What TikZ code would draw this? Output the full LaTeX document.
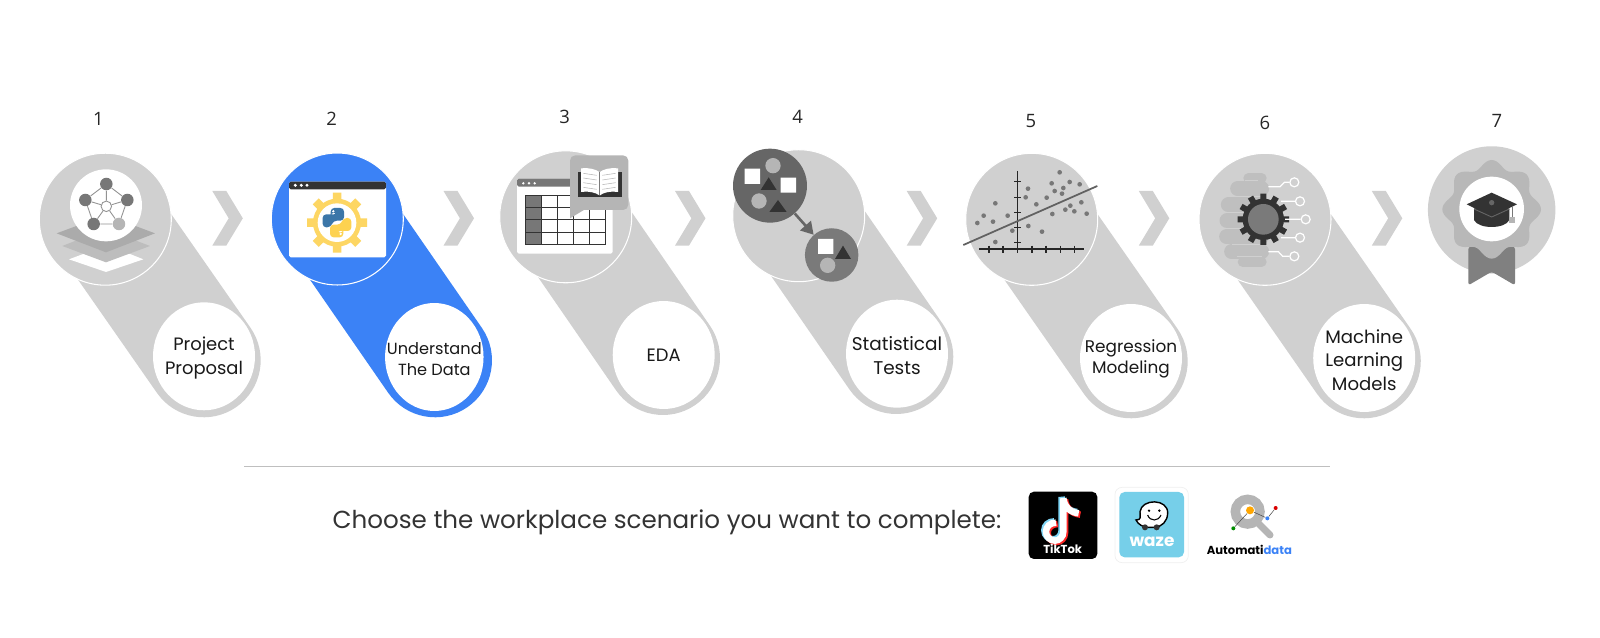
\documentclass[tikz,border=0pt]{standalone}
\usepackage{fontspec}
\usepackage{xcolor}
\setmainfont{Poppins}
\newfontfamily\numfont{Open Sans}
\usetikzlibrary{shapes.geometric}
\usetikzlibrary{arrows.meta}
\usetikzlibrary{backgrounds}
\definecolor{bandgray}{HTML}{D0D0D0}
\definecolor{bandblue}{HTML}{3B82F6}
\definecolor{iconmid}{HTML}{777777}
\definecolor{icondark}{HTML}{333333}
\definecolor{iconsoft}{HTML}{B5B5B5}
\definecolor{gearyellow}{HTML}{FDD663}
\definecolor{pyblue}{HTML}{3B76A8}
\definecolor{pyyellow}{HTML}{FDD250}
\definecolor{wazeblue}{HTML}{76CFE9}
\newcommand{\chevat}[1]{\fill[bandgray,shift={(#1,218.3)}] (0,-27.3) -- (14,-27.3) -- (30.5,0) -- (14,27.3) -- (0,27.3) -- (16.4,0) -- cycle;}
\begin{document}
\begin{tikzpicture}[x=0.02cm,y=-0.02cm,
    numlabel/.style={font=\numfont\fontsize{10.5}{12}\selectfont, text=black!85},
    band/.style={line width=2.28cm, line cap=round, bandgray},
    bigdisc/.style={circle, fill=bandgray, draw=white, line width=0.6pt, minimum size=2.64cm, inner sep=0pt},
    namedisc/.style={ellipse, fill=white, minimum width=2.04cm, minimum height=2.16cm, inner sep=0pt},
    nametext/.style={align=center, inner sep=0pt, text=black!90, yshift=-1.1pt, font=\fontsize{10.2}{13.6}\selectfont},
    netnode/.style={circle, fill=iconmid, minimum size=0.25cm, inner sep=0pt},
    netlink/.style={draw=iconmid!80, line width=0.5pt},
    pin/.style={circle, draw=white, line width=0.7pt, minimum size=0.18cm, inner sep=0pt},
    wire/.style={draw=white, line width=0.7pt},
    logodot/.style={circle, minimum size=0.08cm, inner sep=0pt}]
  \useasboundingbox (0,0) rectangle (1600,638);

  \node[numlabel] (num1) at (98.5,119) {1};
  \node[numlabel] (num2) at (331.7,119) {2};
  \node[numlabel] (num3) at (564.7,117) {3};
  \node[numlabel] (num4) at (797.7,117) {4};
  \node[numlabel] (num5) at (1031,121) {5};
  \node[numlabel] (num6) at (1265,123) {6};
  \node[numlabel] (num7) at (1497,121) {7};

  \coordinate (end1) at (203.7,360.3);
  \coordinate (end2) at (435,360.3);
  \coordinate (end3) at (663,358);
  \coordinate (end4) at (896.3,357);
  \coordinate (end5) at (1130.7,361.3);
  \coordinate (end6) at (1363.8,361.3);

  \node[bigdisc] (disc1) at (105.3,219.2) {};
  \node[bigdisc, fill=bandblue] (disc2) at (337.3,219) {};
  \node[bigdisc] (disc3) at (565.7,216.8) {};
  \node[bigdisc] (disc4) at (798.7,215.7) {};
  \node[bigdisc] (disc5) at (1031.7,219.3) {};
  \node[bigdisc] (disc6) at (1265,219.3) {};

  \begin{scope}[on background layer]
    \draw[band] (disc1.center) -- (end1);
    \draw[band, bandblue] (disc2.center) -- (end2);
    \draw[band] (disc3.center) -- (end3);
    \draw[band] (disc4.center) -- (end4);
    \draw[band] (disc5.center) -- (end5);
    \draw[band] (disc6.center) -- (end6);
  \end{scope}

  \node[namedisc, label={[nametext]center:{Project\\Proposal}}] (name1) at (204,356.3) {};
  \node[namedisc, minimum width=1.97cm, label={[nametext, font=\fontsize{9.2}{12.2}\selectfont]center:{Understand\\The Data}}] (name2) at (434.3,357) {};
  \node[namedisc, label={[nametext, yshift=1.1pt]center:{EDA}}] (name3) at (663.7,355) {};
  \node[namedisc, label={[nametext, font=\fontsize{10.5}{13.4}\selectfont]center:{Statistical\\Tests}}] (name4) at (897,353.7) {};
  \node[namedisc, label={[nametext, yshift=0.5pt, font=\fontsize{9.6}{12.2}\selectfont]center:{Regression\\Modeling}}] (name5) at (1131,358) {};
  \node[namedisc, label={[nametext, font=\fontsize{10.3}{13.4}\selectfont]center:{Machine\\Learning\\Models}}] (name6) at (1364.2,358) {};

  \chevat{212.3}
  \chevat{443.5}
  \chevat{675}
  \chevat{906.7}
  \chevat{1138.8}
  \chevat{1371.8}

  \begin{scope}[shift={(20,90)},scale=1/3]
    \fill[white] (147,508) -- (195,490) -- (325,490) -- (370,508) -- (258,546) -- cycle;
    \fill[black!26] (127,468) -- (185,445) -- (330,445) -- (390,468) -- (258,517) -- cycle;
    \fill[black!33] (110,430) -- (258,375) -- (405,430) -- (258,487) -- cycle;
    \fill[white] (258,346) circle (108);
    \node[netnode] (neta) at (259,282) {};
    \node[netnode] (netb) at (322,330) {};
    \node[netnode, fill=iconsoft] (netc) at (297,402) {};
    \node[netnode] (netd) at (221,402) {};
    \node[netnode] (nete) at (196,330) {};
    \node[circle, draw=iconmid!80, fill=white, line width=0.5pt, minimum size=0.21cm, inner sep=0pt] (nethub) at (259,349) {};
    \draw[netlink] (neta) -- (netb) -- (netc) -- (netd) -- (nete) -- (neta);
    \draw[netlink] (nethub) -- (neta);
    \draw[netlink] (nethub) -- (netb);
    \draw[netlink] (nethub) -- (netc);
    \draw[netlink] (nethub) -- (netd);
    \draw[netlink] (nethub) -- (nete);
  \end{scope}

  \begin{scope}[shift={(280,170)},scale=1/3]
    \fill[white, rounded corners=1pt] (27,35) rectangle (318,262);
    \fill[icondark, rounded corners=1pt] (27,35) rectangle (318,58);
    \fill[white] (46,46) circle (5) (64,46) circle (5) (81,46) circle (5);
    \draw[line width=0.17cm, gearyellow] (171,158) +(0:90) -- +(180:90) +(45:90) -- +(225:90) +(90:90) -- +(270:90) +(135:90) -- +(315:90);
    \fill[gearyellow] (171,158) circle (72);
    \fill[white] (171,158) circle (58);
    \fill[pyblue, rounded corners=2pt] (152,135) -- (152,114) -- (192,114) -- (192,152) -- (160,152) -- (152,172) -- (128,172) -- (128,133) -- (172,133) -- (172,128) -- (152,128) -- cycle;
    \fill[pyyellow, rounded corners=2pt] (190,181) -- (190,202) -- (150,202) -- (150,164) -- (182,164) -- (190,144) -- (214,144) -- (214,183) -- (170,183) -- (170,188) -- (190,188) -- cycle;
    \fill[white] (160,124) circle (4) (182,192) circle (4);
  \end{scope}

  \begin{scope}[shift={(490,90)},scale=1/3]
    \fill[white, rounded corners=1pt] (81,266) rectangle (368,491);
    \fill[iconmid, rounded corners=1pt] (81,266) rectangle (368,290);
    \fill[white] (100,280) circle (4) (117,280) circle (4) (134,280) circle (4);
    \fill[iconmid] (105,317) rectangle (153,463);
    \draw[icondark, line width=0.5pt] (105,317) rectangle (345,463);
    \draw[icondark, line width=0.5pt] (153,317) -- (153,463) (201,317) -- (201,463) (249,317) -- (249,463) (297,317) -- (297,463);
    \draw[icondark, line width=0.5pt] (105,353) -- (345,353) (105,389) -- (345,389) (105,426) -- (345,426);
    \fill[iconsoft, rounded corners=3pt] (240,196) rectangle (415,360);
    \fill[iconsoft] (240,340) -- (240,385) -- (285,358) -- cycle;
    \fill[icondark] (263,245) rectangle (396,322);
    \fill[white] (273,235) .. controls (295,232) and (318,238) .. (328,246) -- (328,316) .. controls (318,308) and (295,302) .. (273,306) -- cycle;
    \fill[white] (384,235) .. controls (362,232) and (339,238) .. (330,246) -- (330,316) .. controls (339,308) and (362,302) .. (384,306) -- cycle;
    \draw[iconsoft, line width=0.3pt] (280,250) -- (320,256) (280,264) -- (320,270) (280,278) -- (320,284) (280,292) -- (320,298);
    \draw[iconsoft, line width=0.3pt] (377,250) -- (337,256) (377,264) -- (337,270) (377,278) -- (337,284) (377,292) -- (337,298);
  \end{scope}

  \begin{scope}[shift={(490,90)},scale=1/3]
    \node[circle, fill=black!60, minimum size=1.48cm, inner sep=0pt] (clusterbig) at (840,287) {};
    \node[circle, fill=black!52, minimum size=1.07cm, inner sep=0pt] (clustersmall) at (1025,495) {};
    \draw[black!60, line width=1.5pt, -{Triangle[width=8pt,length=7pt]}] (clusterbig) -- (clustersmall);
    \fill[white] (764,236) rectangle (810,282) (872,263) rectangle (918,308) (984,447) rectangle (1030,492);
    \fill[iconsoft] (849,227) circle (23) (807,333) circle (23) (1013,526) circle (23);
    \fill[icondark] (812,300) -- (860,300) -- (836,262) -- cycle;
    \fill[icondark] (838,366) -- (890,366) -- (864,330) -- cycle;
    \fill[icondark] (1035,507) -- (1083,507) -- (1059,467) -- cycle;
  \end{scope}

  \begin{scope}[shift={(955,155)},scale=1/3]
    \draw[black!85, line width=0.6pt] (73,282) -- (387,282) (188,48) -- (188,293);
    \draw[black!85, line width=0.6pt] (102,272) -- (102,293) (144,272) -- (144,293) (231,272) -- (231,293) (273,272) -- (273,293) (316,272) -- (316,293) (358,272) -- (358,293);
    \draw[black!85, line width=0.6pt] (178,80) -- (198,80) (178,127) -- (198,127) (178,172) -- (198,172) (178,217) -- (198,217) (178,263) -- (198,263);
    \fill[iconmid] (314,52) circle (7) (290,85) circle (7) (344,81) circle (7) (374,88) circle (7) (325,99) circle (7) (299,108) circle (7) (321,116) circle (7) (219,101) circle (7) (212,127) circle (7) (275,128) circle (7) (121,145) circle (7) (244,148) circle (7) (379,142) circle (7) (346,152) circle (7) (331,164) circle (7) (358,169) circle (7) (395,176) circle (7) (292,177) circle (7) (158,182) circle (7) (86,182) circle (7) (67,204) circle (7) (114,200) circle (7) (220,213) circle (7) (172,227) circle (7) (261,230) circle (7) (121,261) circle (7);
    \draw[black!62, line width=1pt] (25,270) -- (427,93);
  \end{scope}

  \begin{scope}[shift={(1195,150)},scale=1/3]
    \draw[black!25, line width=0.2cm, line cap=round] (160,85) -- (200,85) (143,335) -- (200,335);
    \draw[black!25, line width=0.3cm, line cap=round] (128,116) -- (200,116) (100,165) -- (200,165) (96,212) -- (200,212) (95,260) -- (200,260) (110,305) -- (200,305);
    \fill[black!25] (170,72) rectangle (205,347);
    \draw[bandgray, line width=0.5pt] (150,92) -- (190,92) (120,138) -- (200,138) (100,188) -- (200,188) (100,236) -- (200,236) (110,283) -- (200,283) (125,320) -- (200,320);
    \draw[icondark, line width=0.12cm] (205,208) +(0:77) -- +(180:77) +(30:77) -- +(210:77) +(60:77) -- +(240:77) +(90:77) -- +(270:77) +(120:77) -- +(300:77) +(150:77) -- +(330:77);
    \fill[icondark] (205,208) circle (62);
    \fill[black!52] (205,208) circle (46);
    \node[pin] (pina) at (298,97) {};
    \node[pin] (pinb) at (315,154) {};
    \node[pin] (pinc) at (332,208) {};
    \node[pin] (pind) at (315,263) {};
    \node[pin] (pine) at (298,319) {};
    \draw[wire] (220,110) -- (255,110) -- (268,97) -- (pina);
    \draw[wire] (258,154) -- (pinb);
    \draw[wire] (270,208) -- (pinc);
    \draw[wire] (258,263) -- (pind);
    \draw[wire] (220,305) -- (250,305) -- (263,319) -- (pine);
  \end{scope}

  \begin{scope}[shift={(1420,140)},scale=1/3]
    \node[circle, fill=bandgray, minimum size=2.55cm, inner sep=0pt] (disc7) at (215,210) {};
    \fill[black!50, rounded corners=1.5pt] (145,320) -- (285,320) -- (285,436) -- (215,395) -- (145,436) -- cycle;
    \fill[black!28] plot[domain=0:360, samples=121, smooth] ({215+136*cos(\x)+12*cos(8*\x)*cos(\x)}, {208+136*sin(\x)+12*cos(8*\x)*sin(\x)}) -- cycle;
    \fill[white] (215,207) circle (97);
    \fill[black!80] (162,205) -- (162,240) .. controls (175,268) and (255,268) .. (268,240) -- (268,205) -- cycle;
    \fill[black!80] (140,193) -- (215,158) -- (291,193) -- (215,230) -- cycle;
    \draw[black!60, line width=0.5pt] (162,207) -- (215,231) -- (268,207);
    \fill[black!60] (215,188) circle (8);
    \draw[iconmid, line width=0.4pt] (277,198) -- (277,232);
    \fill[iconsoft] (268,230) rectangle (285,250);
  \end{scope}

  \node[rectangle, fill=black!25, minimum width=21.73cm, minimum height=0.02cm, inner sep=0pt] (rule) at (787,467) {};
  \node[text=black!80, font=\fontsize{14}{18}\selectfont] (prompt) at (667,522.5) {Choose the workplace scenario you want to complete:};

  \begin{scope}[shift={(1020,485)},scale=1/3]
    \fill[black, rounded corners=3pt] (26,20) rectangle (232,222);
    \draw[cyan!50!white, line width=0.13cm, shift={(-5,-4)}] (176,85) .. controls (150,82) and (133,65) .. (130,40) -- (130,140) .. controls (130,155) and (118,167) .. (105,167) .. controls (90,167) and (78,155) .. (78,140) .. controls (78,125) and (90,113) .. (108,113);
    \draw[red!80!pink, line width=0.13cm, shift={(5,4)}] (176,85) .. controls (150,82) and (133,65) .. (130,40) -- (130,140) .. controls (130,155) and (118,167) .. (105,167) .. controls (90,167) and (78,155) .. (78,140) .. controls (78,125) and (90,113) .. (108,113);
    \draw[white, line width=0.13cm] (176,85) .. controls (150,82) and (133,65) .. (130,40) -- (130,140) .. controls (130,155) and (118,167) .. (105,167) .. controls (90,167) and (78,155) .. (78,140) .. controls (78,125) and (90,113) .. (108,113);
    \node[text=white, font=\bfseries\fontsize{6.6}{8}\selectfont, inner sep=0pt] (tiktokname) at (128,192) {TikTok};
  \end{scope}

  \begin{scope}[shift={(1000,470)},scale=1/3]
    \fill[white, rounded corners=4pt, draw=black!6] (345,52) rectangle (565,278);
    \fill[wazeblue, rounded corners=3pt] (358,66) rectangle (552,262);
    \filldraw[fill=white, draw=black, line width=0.8pt] (408,150) .. controls (425,150) and (420,140) .. (420,125) .. controls (425,85) and (505,85) .. (503,130) .. controls (502,155) and (485,170) .. (465,172) -- (440,172) .. controls (430,170) and (415,165) .. (408,150) -- cycle;
    \fill[black] (447,122) circle (4) (478,122) circle (4);
    \draw[black, line width=0.6pt] (443,135) .. controls (450,155) and (475,155) .. (483,135);
    \fill[icondark] (435,172) circle (9) (470,172) circle (9);
    \node[text=white, font=\bfseries\fontsize{9.6}{11}\selectfont, inner sep=0pt] (wazename) at (456,216) {waze};
  \end{scope}

  \begin{scope}[shift={(1200,485)},scale=1/3]
    \draw[iconsoft, line width=0.19cm] (143,80) circle (37);
    \draw[iconsoft, line width=0.14cm, line cap=round] (172,112) -- (210,150);
    \node[logodot, fill=orange!70!yellow, minimum size=0.16cm] (dotorange) at (150,76) {};
    \node[logodot, fill=bandblue] (dotblue) at (202,100) {};
    \node[logodot, fill=red!85!black] (dotred) at (227,69) {};
    \node[logodot, fill=green!55!black] (dotgreen) at (100,130) {};
    \draw[black!70, line width=0.3pt] (dotgreen) -- (dotorange);
    \draw[black!70, line width=0.3pt] (dotorange) -- (dotblue);
    \draw[black!70, line width=0.3pt] (dotblue) -- (dotred);
    \node[font=\bfseries\fontsize{6.6}{8}\selectfont, inner sep=0pt] (automatiname) at (148,196) {Automati\textcolor{bandblue}{data}};
  \end{scope}
\end{tikzpicture}
\end{document}
